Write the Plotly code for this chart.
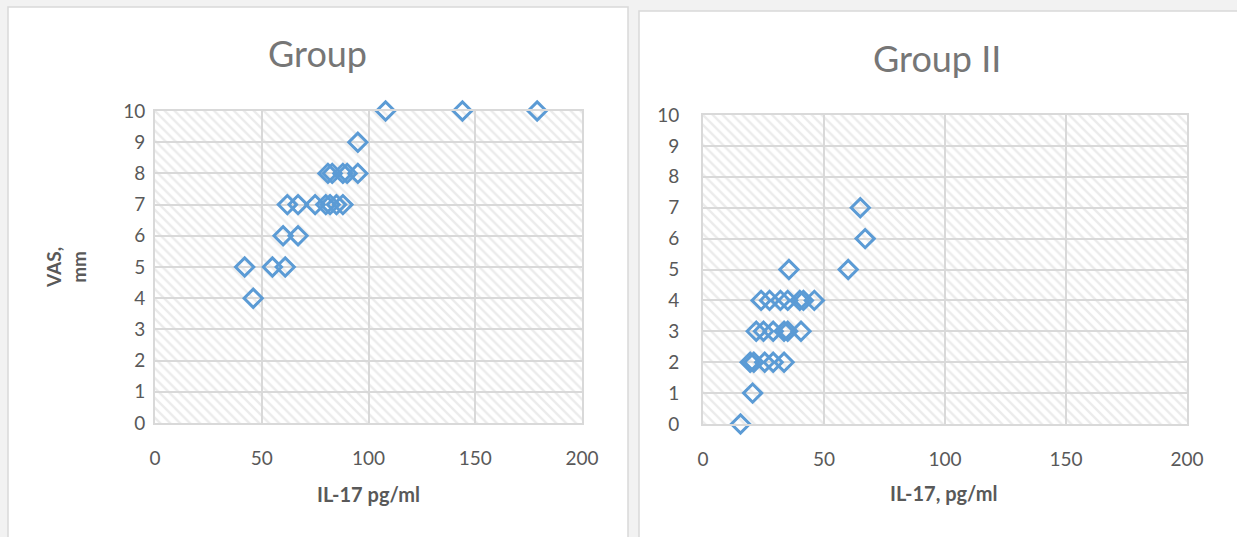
import plotly.graph_objects as go

# ---- data ----
g1_il17 = [108, 144, 179, 95, 81, 83, 88, 90, 95, 62, 67, 75, 80, 82, 85, 88, 60, 67, 42, 55, 61, 46]
g1_vas = [10, 10, 10, 9, 8, 8, 8, 8, 8, 7, 7, 7, 7, 7, 7, 7, 6, 6, 5, 5, 5, 4]

g2_il17 = [65, 67, 35.5, 60, 24, 27.5, 32, 35, 40, 41.5, 46, 22, 25, 29, 33.5, 35, 40.5,
           19.5, 21, 25.5, 29, 33.5, 20.5, 15.5]
g2_vas = [7, 6, 5, 5, 4, 4, 4, 4, 4, 4, 4, 3, 3, 3, 3, 3, 3, 2, 2, 2, 2, 2, 1, 0]

titles = ["Group", "Group II"]
x_titles = ["IL-17 pg/ml", "IL-17, pg/ml"]
y_title = "VAS,<br>mm"
x_range = [0, 200]
y_range = [0, 10]

W, H = 1237, 537
BLUE = "#5b9bd5"
GRID = "#d9d9d9"
TXT = "#595959"
FONT = "Lato, 'Open Sans', sans-serif"

fig = go.Figure()

# hatched plot backgrounds
for xa, ya in [("x", "y"), ("x2", "y2")]:
    fig.add_trace(go.Scatter(
        x=[x_range[0], x_range[1], x_range[1], x_range[0], x_range[0]],
        y=[y_range[0], y_range[0], y_range[1], y_range[1], y_range[0]],
        mode="lines", line=dict(width=0), fill="toself",
        fillcolor="rgba(0,0,0,0)",
        fillpattern=dict(shape="\\", fgcolor="#d8d8d8", bgcolor="rgba(0,0,0,0)",
                         size=7, solidity=0.35),
        hoverinfo="skip", showlegend=False, xaxis=xa, yaxis=ya))

marker = dict(symbol="diamond-open", size=14, color=BLUE, line=dict(width=3, color=BLUE))
fig.add_trace(go.Scatter(x=g1_il17, y=g1_vas, mode="markers", marker=marker,
                         showlegend=False, cliponaxis=False, xaxis="x", yaxis="y"))
fig.add_trace(go.Scatter(x=g2_il17, y=g2_vas, mode="markers", marker=marker,
                         showlegend=False, cliponaxis=False, xaxis="x2", yaxis="y2"))

def px_x(p):
    return p / W

def px_y(p):
    return 1 - p / H

axis_common = dict(showgrid=True, gridcolor=GRID, gridwidth=2, zeroline=False,
                   showline=True, linecolor=GRID, linewidth=2, mirror=True,
                   automargin=False,
                   tickfont=dict(family=FONT, size=19, color=TXT), ticks="")

fig.update_layout(
    width=W, height=H,
    margin=dict(l=0, r=0, t=0, b=0, pad=0, autoexpand=False),
    paper_bgcolor="#f2f2f2", plot_bgcolor="white",
    xaxis=dict(domain=[px_x(155), px_x(582)], range=x_range, dtick=50,
               anchor="y", ticklabelstandoff=17, **axis_common),
    yaxis=dict(domain=[px_y(423), px_y(111)], range=y_range, dtick=1,
               anchor="x", ticklabelstandoff=4, **axis_common),
    xaxis2=dict(domain=[px_x(703), px_x(1187)], range=x_range, dtick=50,
                anchor="y2", ticklabelstandoff=17, **axis_common),
    yaxis2=dict(domain=[px_y(424), px_y(115)], range=y_range, dtick=1,
                anchor="x2", ticklabelstandoff=18, **axis_common),
    shapes=[
        dict(type="rect", xref="paper", yref="paper", layer="below",
             x0=px_x(8), x1=px_x(628), y0=px_y(545), y1=px_y(7),
             fillcolor="white", line=dict(color="#d9d9d9", width=1.5)),
        dict(type="rect", xref="paper", yref="paper", layer="below",
             x0=px_x(639), x1=px_x(1245), y0=px_y(545), y1=px_y(11),
             fillcolor="white", line=dict(color="#d9d9d9", width=1.5)),
    ],
    annotations=[
        dict(text=titles[0], x=px_x(318), y=px_y(53), xref="paper", yref="paper",
             showarrow=False, font=dict(family=FONT, size=36, color="#767676"),
             xanchor="center", yanchor="middle"),
        dict(text=titles[1], x=px_x(937), y=px_y(58), xref="paper", yref="paper",
             showarrow=False, font=dict(family=FONT, size=36, color="#767676"),
             xanchor="center", yanchor="middle"),
        dict(text="<b>" + x_titles[0] + "</b>", x=px_x(368), y=px_y(494), xref="paper",
             yref="paper", showarrow=False, font=dict(family=FONT, size=20, color=TXT),
             xanchor="center", yanchor="middle"),
        dict(text="<b>" + x_titles[1] + "</b>", x=px_x(944), y=px_y(493), xref="paper",
             yref="paper", showarrow=False, font=dict(family=FONT, size=20, color=TXT),
             xanchor="center", yanchor="middle"),
        dict(text="<b>" + y_title + "</b>", x=px_x(66), y=px_y(268), xref="paper",
             yref="paper", showarrow=False, textangle=-90,
             font=dict(family=FONT, size=19, color=TXT),
             xanchor="center", yanchor="middle"),
    ],
)

fig.write_html("out.html", config={"displayModeBar": False},
               post_script="document.body.style.margin='0';document.body.style.overflow='hidden';")
